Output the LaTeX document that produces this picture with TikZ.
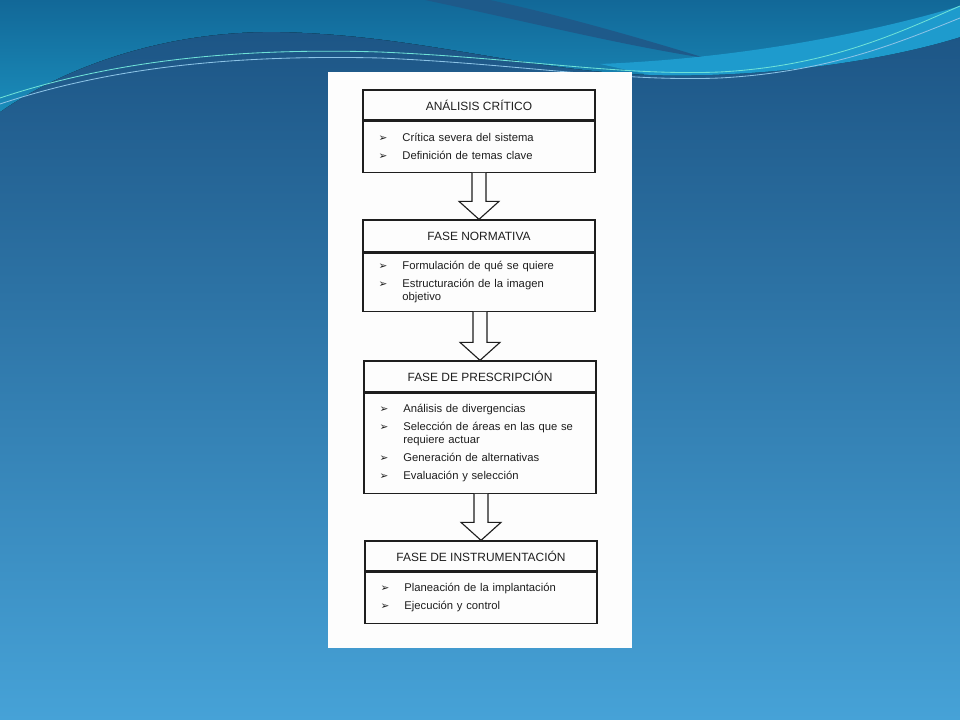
\documentclass[tikz,border=0pt]{standalone}
\usepackage{fontspec}
\setmainfont{Liberation Sans}
\newfontfamily\symfont{DejaVu Sans}
\usetikzlibrary{positioning,calc}
\definecolor{bgdeep}{RGB}{27,82,130}
\definecolor{bgsky}{RGB}{70,162,215}
\definecolor{bgteal}{RGB}{18,104,152}
\definecolor{bgcyan}{RGB}{26,140,186}
\definecolor{swoosh}{RGB}{30,90,138}
\definecolor{glow}{RGB}{30,155,205}
\definecolor{mint}{RGB}{110,225,215}
\definecolor{pale}{RGB}{140,195,230}
\definecolor{ink}{RGB}{30,30,30}
\definecolor{paper}{RGB}{253,253,253}
\newcommand\bul{\hspace*{0.19cm}\makebox[17pt][l]{\symfont\fontsize{7.5}{7.5}\selectfont ➢}}
\newcommand\cont{\hspace*{\dimexpr0.19cm+17pt\relax}}
\tikzset{
  phasehead/.style={draw=ink, line width=0.9pt, minimum width=5.8cm, inner sep=0pt,
                    font=\fontsize{8.5}{10}\selectfont, text=ink},
  phasebody/.style={draw=ink, line width=0.9pt, text width=5.4cm, inner xsep=0.2cm,
                    inner ysep=0pt, align=left, font=\fontsize{8}{12.7}\selectfont, text=ink},
  blockarr/.style={draw=ink, line width=0.8pt, fill=paper, line join=miter},
  thinline/.style={line width=0.6pt},
}

\begin{document}
\begin{tikzpicture}[x=0.025cm, y=-0.025cm]
  \useasboundingbox (0,0) rectangle (960,720);
  % background
  \fill[top color=bgdeep, bottom color=bgsky] (0,0) rectangle (960,720);
  \fill[top color=bgteal, bottom color=bgcyan] (0,0) -- (960,0) -- (960,37)
    .. controls (880,62) and (760,78) .. (650,75)
    .. controls (520,70) and (420,35) .. (280,32)
    .. controls (160,30) and (60,70) .. (0,112) -- cycle;
  \fill[swoosh] (425,0) .. controls (520,20) and (620,45) .. (705,58)
    .. controls (640,38) and (560,15) .. (490,0) -- cycle;
  \fill[glow] (600,64) .. controls (750,58) and (880,30) .. (960,6) -- (960,37)
    .. controls (880,62) and (760,78) .. (650,75) -- cycle;
  \draw[thinline, mint] (0,98) .. controls (120,58) and (250,48) .. (380,52)
    .. controls (520,58) and (620,76) .. (720,72) .. controls (830,66) and (900,32) .. (960,6);
  \draw[thinline, pale] (0,104) .. controls (120,64) and (250,55) .. (380,58)
    .. controls (520,64) and (620,82) .. (720,78) .. controls (830,72) and (900,42) .. (960,18);
  % scanned page
  \fill[paper] (328,72) rectangle (632,648);

  % phases
  \node[phasehead, minimum height=0.75cm] (h1) at (479,105) {ANÁLISIS CRÍTICO};
  \node[phasebody, minimum height=1.275cm, below=0pt of h1] (b1)
    {\bul Crítica severa del sistema\\
     \bul Definición de temas clave};

  \node[phasehead, minimum height=0.8cm] (h2) at (479,236) {FASE NORMATIVA};
  \node[phasebody, minimum height=1.45cm, below=0pt of h2] (b2)
    {\bul Formulación de qué se quiere\\
     \bul Estructuración de la imagen\\[-3.5pt]
     \cont objetivo};

  \node[phasehead, minimum height=0.775cm] (h3) at (480,376.5) {FASE DE PRESCRIPCIÓN};
  \node[phasebody, minimum height=2.5cm, below=0pt of h3] (b3)
    {\bul Análisis de divergencias\\
     \bul Selección de áreas en las que se\\[-3.5pt]
     \cont requiere actuar\\
     \bul Generación de alternativas\\
     \bul Evaluación y selección};

  \node[phasehead, minimum height=0.75cm] (h4) at (481,556) {FASE DE INSTRUMENTACIÓN};
  \node[phasebody, minimum height=1.275cm, below=0pt of h4] (b4)
    {\bul Planeación de la implantación\\
     \bul Ejecución y control};

  % hollow arrows
  \foreach \up/\dn in {b1/h2, b2/h3, b3/h4} {
    \draw[blockarr] ($(\up.south -| \dn.north)+(-7,0)$) -- ($(\dn.north)+(-7,-18)$)
      -- ($(\dn.north)+(-20,-18)$) -- (\dn.north) -- ($(\dn.north)+(20,-18)$)
      -- ($(\dn.north)+(7,-18)$) -- ($(\up.south -| \dn.north)+(7,0)$);
  }
\end{tikzpicture}
\end{document}
